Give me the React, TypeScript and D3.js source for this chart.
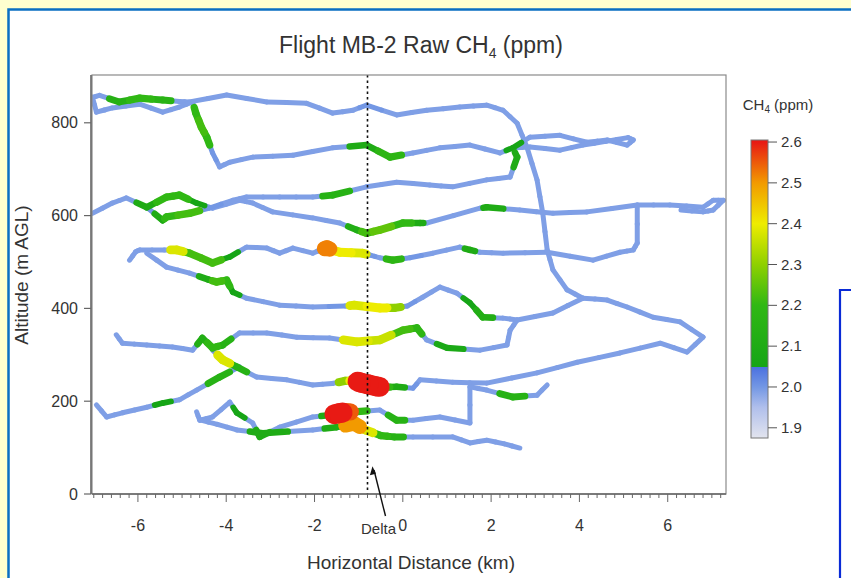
import React from 'react';
import * as d3 from 'd3';

type P = [number, number, number]; // [km, m AGL, CH4 ppm]

const xMajorTicks = [-6, -4, -2, 0, 2, 4, 6];
const yTicks = [0, 200, 400, 600, 800];
const cbTicks = [1.9, 2.0, 2.1, 2.2, 2.3, 2.4, 2.5, 2.6];
const deltaKm = -0.8;

const track1: P[] = [[-7.03,855,1.99],[-6.87,859,1.99],[-6.42,845,2.14],[-5.96,853,2.2],[-5.44,849,2.16],[-5.06,846,1.99],[-4.83,845,1.99],[-3.99,860,1.99],[-3.08,845,1.99],[-2.18,842,1.99],[-1.59,821,1.99],[-1.13,827,1.99],[-0.82,838,2.0],[-0.14,817,1.99],[0.54,827,1.99],[1.29,834,1.99],[1.90,838,1.99],[2.27,827,1.99],[2.59,799,1.99],[2.81,748,1.99],[3.04,677,1.99],[3.17,605,1.99],[3.27,526,1.99],[3.40,483,1.99],[3.72,440,1.99],[4.08,422,1.99]];
const track1b: P[] = [[-7.03,855,1.99],[-6.94,823,1.99],[-6.58,832,1.99],[-5.96,840,1.99],[-5.44,823,1.99],[-5.06,834,1.99],[-4.76,845,1.99]];
const track2: P[] = [[-4.76,845,1.99],[-4.69,821,2.2],[-4.56,790,2.22],[-4.44,769,2.2],[-4.31,735,2.0],[-4.15,705,1.99],[-3.92,715,1.99],[-3.40,726,1.99],[-2.49,730,1.99],[-1.59,746,1.99],[-0.82,752,2.1],[-0.29,726,2.18],[0.23,735,1.99],[0.84,746,1.99],[1.52,752,1.99],[2.20,735,1.99],[2.49,746,2.05],[2.88,769,1.99],[3.56,773,1.99],[4.17,758,1.99],[4.63,763,1.99],[5.08,752,1.99],[5.22,763,1.99],[5.1,768,1.99],[4.6,760,1.99],[4.08,752,1.99],[3.56,741,1.99],[2.88,748,1.99],[2.49,746,1.99]];
const track3: P[] = [[-5.80,618,2.0],[-5.44,590,2.1],[-5.35,597,2.2],[-4.83,605,2.22],[-4.38,616,2.0],[-3.85,633,1.99],[-3.54,640,1.99],[-2.79,640,1.99],[-2.04,640,1.99],[-1.59,644,2.15],[-0.82,662,1.99],[-0.14,672,1.99],[0.61,666,1.99],[1.13,662,1.99],[1.90,677,1.99],[2.43,683,1.99],[2.59,726,2.1],[2.49,746,1.99]];
const track4: P[] = [[-7.03,605,1.99],[-6.58,627,1.99],[-6.26,638,1.99],[-5.80,618,2.1],[-5.35,640,2.2],[-5.06,644,2.2],[-4.67,627,2.05],[-4.31,616,1.99],[-3.70,633,1.99],[-3.40,627,1.99],[-2.95,608,1.99],[-2.04,595,1.99],[-1.43,584,1.99],[-1.04,569,2.12],[-0.82,562,2.22],[-0.52,569,2.25],[0,584,2.2],[0.39,584,2.1],[0.54,584,1.99],[1.75,616,1.99],[1.90,618,2.1],[2.65,612,1.99],[3.40,605,1.99],[4.17,608,1.99],[5.31,623,1.99],[6.05,623,1.99],[6.80,618,1.99],[7.03,633,1.99],[7.26,633,1.99],[7.03,612,1.99],[6.80,608,1.99],[6.3,612,1.99]];
const track5: P[] = [[-6.19,504,1.99],[-6.05,522,1.99],[-5.96,526,1.99],[-5.4,526,1.99],[-5.12,526,2.38],[-4.83,519,2.22],[-4.31,498,2.22],[-3.92,511,2.05],[-3.54,532,1.99],[-3.08,530,1.99],[-2.79,519,1.99],[-2.49,530,1.99],[-2.04,519,1.99],[-1.82,528,1.99],[-1.72,530,2.52],[-1.6,526,2.3],[-1.43,521,2.4],[-0.91,519,2.38],[-0.75,515,2.0],[-0.52,509,1.99],[-0.23,504,2.18],[0.16,509,2.0],[0.68,519,1.99],[1.29,532,1.99],[1.52,526,2.1],[1.75,521,1.99],[2.27,519,1.99],[3.27,521,1.99],[4.31,504,1.99],[4.92,521,1.99],[5.22,526,1.99],[5.31,541,1.99],[5.31,623,1.99]];
const track6: P[] = [[-5.80,519,1.99],[-5.35,489,1.99],[-4.83,476,1.99],[-4.40,462,2.1],[-4.22,457,2.22],[-3.99,461,2.2],[-3.85,435,2.05],[-3.54,422,1.99],[-2.79,407,1.99],[-2.04,403,1.99],[-1.3,405,2.0],[-1.1,407,2.38],[-0.52,401,2.4],[-0.2,401,2.3],[0.1,405,2.0],[0.45,424,1.99],[0.84,446,1.99],[1.22,433,1.99],[1.52,412,2.05],[1.81,381,2.12],[2.27,379,1.99],[2.59,375,1.99],[3.40,390,1.99],[4.08,422,1.99],[4.63,418,1.99],[5.08,403,1.99],[5.67,381,1.99],[6.28,371,1.99],[6.80,338,1.99],[6.44,306,1.99],[5.83,325,1.99],[4.92,304,1.99],[3.95,284,1.99],[3.04,261,1.99],[1.90,239,1.99],[1.13,241,1.99],[0.39,246,1.99],[0.23,228,2.0],[-0.14,231,2.1],[-0.45,230,2.2],[-0.6,232,2.6],[-0.95,240,2.6],[-1.1,244,2.4],[-1.3,244,2.3],[-1.6,238,1.99],[-2.04,235,1.99],[-2.63,246,1.99],[-3.31,252,1.99],[-3.76,274,2.15],[-4.08,289,2.38],[-4.31,310,2.0]];
const track7: P[] = [[-6.49,343,1.99],[-6.35,325,1.99],[-5.80,321,1.99],[-5.22,317,1.99],[-4.76,310,1.99],[-4.54,336,2.12],[-4.31,315,2.2],[-4.08,321,2.15],[-3.70,347,1.99],[-3.08,347,1.99],[-2.40,338,1.99],[-1.66,336,1.99],[-1.04,328,2.38],[-0.52,332,2.36],[0,353,2.22],[0.32,358,2.18],[0.54,332,1.99],[1.00,315,2.08],[1.75,310,1.99],[2.36,321,1.99],[2.43,353,1.99],[2.59,375,1.99]];
const track8: P[] = [[-3.70,274,2.0],[-4.15,252,2.15],[-4.67,224,1.99],[-5.06,203,1.99],[-5.44,196,2.05],[-5.80,187,1.99],[-6.35,175,1.99],[-6.71,166,1.99],[-6.94,192,1.99]];
const track9: P[] = [[-4.67,177,1.99],[-4.60,159,1.99],[-4.31,166,1.99],[-3.92,198,1.99],[-3.76,175,2.05],[-3.40,153,1.99],[-3.24,123,2.1],[-2.79,144,1.99],[-2.04,166,1.99],[-1.65,170,2.1],[-1.45,174,2.6],[-1.28,177,2.55],[-1.1,177,2.2],[-0.52,181,1.99],[-0.14,159,2.15],[0.23,159,1.99],[0.84,166,1.99],[1.52,153,1.99],[1.52,231,1.99],[1.90,224,1.99],[2.49,209,2.15],[3.04,213,1.99],[3.27,235,1.99]];
const track10: P[] = [[-4.60,160,1.99],[-4.2,150,1.99],[-3.76,138,1.99],[-3.17,131,2.1],[-2.04,138,1.99],[-1.50,144,2.1],[-1.1,152,2.5],[-0.85,138,2.38],[-0.5,126,2.2],[-0.2,123,2.15],[0.23,123,1.99],[1.13,123,1.99],[1.52,110,1.99],[1.90,116,1.99],[2.3,108,1.99],[2.65,99,1.99]];

const tracks = [track1, track1b, track2, track3, track4, track5, track6, track7, track8, track9, track10];

const colorStops: [number, string][] = [
  [1.875, '#e2e4ee'], [1.95, '#b0bfec'], [2.0, '#7397e4'], [2.0499, '#4a70e0'],
  [2.05, '#16a516'], [2.2, '#30b814'], [2.3, '#8fd000'], [2.4, '#eeec00'],
  [2.5, '#f29a00'], [2.6, '#e81a14'],
];

const FONT = '"Liberation Sans", Arial, Helvetica, sans-serif';

export default function App() {
  const W = 851, H = 578;
  const L = 92, R = 726, T = 75, B = 494;
  const x = d3.scaleLinear().domain([-7.04, 7.32]).range([L, R]);
  const y = d3.scaleLinear().domain([0, 903]).range([B, T]);
  const color = d3.scaleLinear<string>().domain(colorStops.map(s => s[0])).range(colorStops.map(s => s[1])).clamp(true);
  const width = d3.scaleLinear().domain([2.0, 2.1, 2.4, 2.6]).range([5, 6.5, 9, 20]).clamp(true);

  type Seg = { x1: number; y1: number; x2: number; y2: number; v: number };
  const segs: Seg[] = [];
  tracks.forEach(t => {
    for (let i = 0; i < t.length - 1; i++) {
      const a = t[i], b = t[i + 1];
      const ax = x(a[0]), ay = y(a[1]), bx = x(b[0]), by = y(b[1]);
      const mx = (ax + bx) / 2, my = (ay + by) / 2;
      segs.push({ x1: ax, y1: ay, x2: mx, y2: my, v: a[2] });
      segs.push({ x1: mx, y1: my, x2: bx, y2: by, v: b[2] });
    }
  });
  segs.sort((a, b) => a.v - b.v);

  const minorTicks = d3.range(-7.0, 7.31, 0.2).map(v => Math.round(v * 10) / 10);

  const cbX = 751, cbW = 17;
  const cbY = d3.scaleLinear().domain([1.875, 2.605]).range([438, 140]);
  const cbDom = cbY.domain();
  const off = (v: number) => (v - cbDom[0]) / (cbDom[1] - cbDom[0]);

  const axisCol = '#666';
  const textCol = '#333';

  return (
    <svg width={W} height={H} style={{ position: 'absolute', left: 0, top: 0 }} fontFamily={FONT}>
      <defs>
        <linearGradient id="cbgrad" x1="0" y1="1" x2="0" y2="0">
          {colorStops.map((s, i) => (
            <stop key={i} offset={Math.max(0, Math.min(1, off(s[0])))} stopColor={s[1]} />
          ))}
        </linearGradient>
        <clipPath id="plotclip">
          <rect x={L} y={T} width={R - L} height={B - T} />
        </clipPath>
      </defs>
      <rect x={0} y={0} width={W} height={H} fill="#ffffcf" />
      <rect x={8.5} y={9.5} width={W} height={H} fill="#ffffff" stroke="#0a6fc2" strokeWidth={2.5} />

      <text x={421} y={53} textAnchor="middle" fontSize={23} fill={textCol}>
        Flight MB-2 Raw CH<tspan fontSize={14} dy={5}>4</tspan><tspan dy={-5}> (ppm)</tspan>
      </text>

      <g clipPath="url(#plotclip)">
        {segs.map((s, i) => (
          <line key={i} x1={s.x1} y1={s.y1} x2={s.x2} y2={s.y2} stroke={color(s.v)}
            strokeWidth={width(s.v)} strokeLinecap="round" />
        ))}
      </g>

      <line x1={x(deltaKm)} x2={x(deltaKm)} y1={T} y2={B} stroke="#111" strokeWidth={1.6} strokeDasharray="2.5,3" />

      <rect x={L} y={T} width={R - L} height={B - T} fill="none" stroke="#8a8a8a" strokeWidth={1.2} />
      <line x1={L - 1} x2={L - 1} y1={T} y2={B} stroke={axisCol} strokeWidth={1.6} />
      <line x1={L} x2={R} y1={B} y2={B} stroke={axisCol} strokeWidth={1.6} />

      {yTicks.map(t => (
        <g key={t}>
          <line x1={L - 8} x2={L - 1} y1={y(t)} y2={y(t)} stroke={axisCol} strokeWidth={1.2} />
          <text x={L - 14} y={y(t) + 5.5} textAnchor="end" fontSize={16} fill={textCol}>{t}</text>
        </g>
      ))}
      {minorTicks.map(t => {
        const major = Math.abs(t - Math.round(t)) < 1e-6 && Math.round(t) % 2 === 0;
        return <line key={t} x1={x(t)} x2={x(t)} y1={B} y2={B + (major ? 8 : 4)} stroke={axisCol} strokeWidth={1} />;
      })}
      {xMajorTicks.map(t => (
        <text key={t} x={x(t)} y={531} textAnchor="middle" fontSize={16} fill={textCol}>{t < 0 ? '-' + Math.abs(t) : t}</text>
      ))}

      <text x={x(deltaKm) + 11} y={534} textAnchor="middle" fontSize={15} fill={textCol}>Delta</text>
      <line x1={x(deltaKm) + 18} y1={516} x2={x(deltaKm) + 6.5} y2={470} stroke="#111" strokeWidth={1.4} />
      <path d={`M ${x(deltaKm) + 5} ${y(60)} l -2.6 9 l 6 -1.4 z`} fill="#111" />

      <text x={411} y={569} textAnchor="middle" fontSize={19} fill={textCol}>Horizontal Distance (km)</text>
      <text transform="translate(28,275) rotate(-90)" textAnchor="middle" fontSize={19} fill={textCol}>Altitude (m AGL)</text>

      <text x={778} y={110} textAnchor="middle" fontSize={15} fill={textCol}>
        CH<tspan fontSize={10} dy={3}>4</tspan><tspan dy={-3}> (ppm)</tspan>
      </text>
      <rect x={cbX} y={cbY(2.605)} width={cbW} height={cbY(1.875) - cbY(2.605)} fill="url(#cbgrad)" stroke="#777" strokeWidth={1} />
      {cbTicks.map(t => (
        <g key={t}>
          <line x1={cbX + cbW} x2={cbX + cbW + 9} y1={cbY(t)} y2={cbY(t)} stroke="#555" strokeWidth={1} />
          <text x={cbX + cbW + 13} y={cbY(t) + 5} fontSize={15} fill={textCol}>{t.toFixed(1)}</text>
        </g>
      ))}

      <path d={`M 840 ${H} L 840 290 L ${W} 290`} fill="none" stroke="#0a2bd6" strokeWidth={2.2} />
    </svg>
  );
}
